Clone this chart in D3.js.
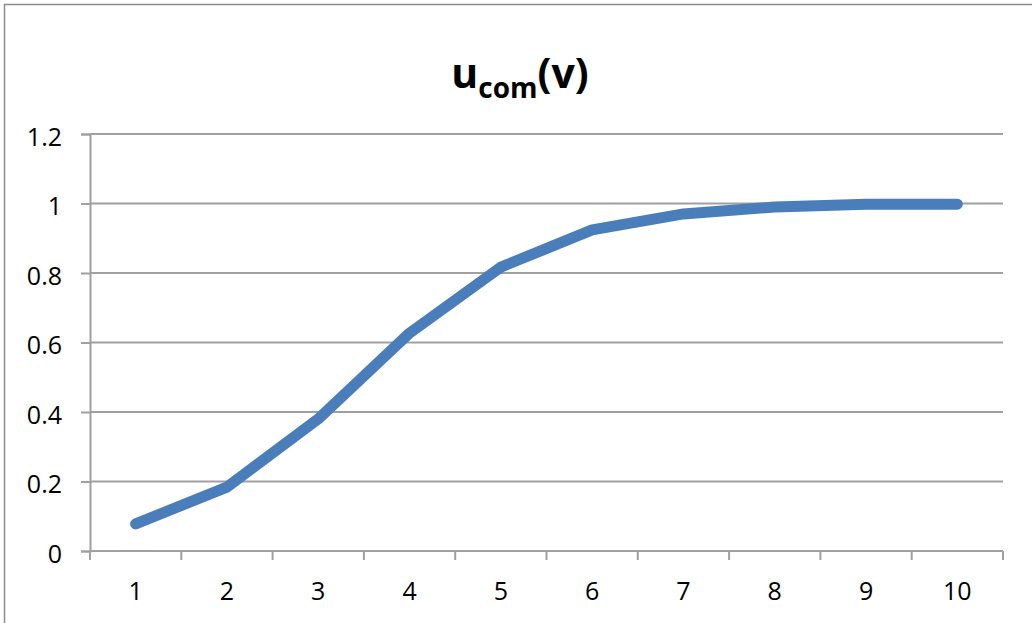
<!DOCTYPE html>
<html>
<head>
<meta charset="utf-8">
<script src="https://cdn.jsdelivr.net/npm/d3@7"></script>
<style>
  html, body { margin: 0; padding: 0; background: #fff; }
  svg { display: block; }
  text { font-family: "Open Sans", "Liberation Sans", sans-serif; fill: #000; }
</style>
</head>
<body>
<script>
// Series: u_com as a function of v
const categories = ["1", "2", "3", "4", "5", "6", "7", "8", "9", "10"];
const values = [0.078, 0.184, 0.38, 0.627, 0.817, 0.924, 0.97, 0.99, 0.998, 0.998];
const yTicks = [0, 0.2, 0.4, 0.6, 0.8, 1, 1.2];

const W = 1032, H = 623;
const margin = { left: 90, right: 29, top: 134, bottom: 72 };

const svg = d3.select("body").append("svg").attr("width", W).attr("height", H);

// chart frame
svg.append("rect")
  .attr("x", 4.5).attr("y", 4.5).attr("width", W + 10).attr("height", H + 10)
  .attr("fill", "#fff").attr("stroke", "#8c8c8c").attr("stroke-width", 1.5);

const x = d3.scaleBand().domain(categories).range([margin.left, W - margin.right]);
const y = d3.scaleLinear().domain([0, 1.2]).range([H - margin.bottom, margin.top]);

// horizontal gridlines
svg.append("g").selectAll("line").data(yTicks.filter(d => d > 0)).join("line")
  .attr("x1", margin.left).attr("x2", W - margin.right)
  .attr("y1", d => y(d)).attr("y2", d => y(d))
  .attr("stroke", "#a0a0a0").attr("stroke-width", 2);

// y axis
const yAxis = svg.append("g")
  .attr("transform", `translate(${margin.left},0)`)
  .call(d3.axisLeft(y).tickValues(yTicks).tickFormat(d3.format("")).tickSize(9).tickPadding(19));
yAxis.select(".domain").attr("stroke", "#a0a0a0").attr("stroke-width", 2);
yAxis.selectAll(".tick line").attr("stroke", "#a0a0a0").attr("stroke-width", 2);
yAxis.selectAll("text").attr("font-size", 25).attr("fill", "#000").attr("dy", "0.45em")
  .attr("font-family", "'Open Sans', sans-serif");

// x axis with ticks on category boundaries
const xg = svg.append("g").attr("transform", `translate(0,${y(0)})`);
xg.append("line")
  .attr("x1", margin.left).attr("x2", W - margin.right)
  .attr("stroke", "#a0a0a0").attr("stroke-width", 2);
const bounds = categories.map(c => x(c)).concat([x(categories[categories.length - 1]) + x.bandwidth()]);
xg.selectAll("line.tk").data(bounds).join("line").attr("class", "tk")
  .attr("x1", d => d).attr("x2", d => d).attr("y1", 0).attr("y2", 9)
  .attr("stroke", "#a0a0a0").attr("stroke-width", 2);
xg.selectAll("text").data(categories).join("text")
  .attr("x", d => x(d) + x.bandwidth() / 2).attr("y", 49)
  .attr("text-anchor", "middle").attr("font-size", 25).text(d => d);

// data line
const line = d3.line()
  .x((d, i) => x(categories[i]) + x.bandwidth() / 2)
  .y(d => y(d));
svg.append("path").datum(values)
  .attr("d", line)
  .attr("fill", "none").attr("stroke", "#4a7ebb").attr("stroke-width", 11)
  .attr("stroke-linecap", "round").attr("stroke-linejoin", "round");

// title u_com(v)
const title = svg.append("text")
  .attr("x", W / 2 + 4).attr("y", 88).attr("text-anchor", "middle")
  .attr("font-size", 41).attr("font-weight", "bold");
title.append("tspan").text("u");
title.append("tspan").attr("font-size", 28).attr("dy", 10).text("com");
title.append("tspan").attr("dy", -10).text("(v)");
</script>
</body>
</html>
